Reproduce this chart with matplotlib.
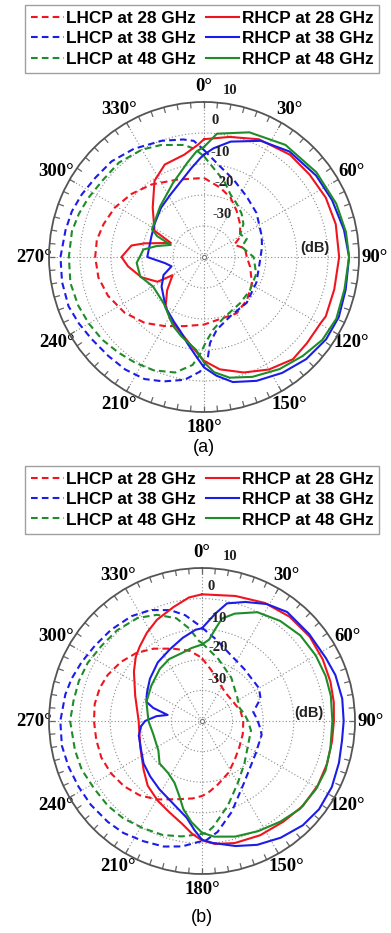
import numpy as np
import matplotlib
matplotlib.use("Agg")
import matplotlib.pyplot as plt
from matplotlib.lines import Line2D

# ---------------- data (angle in degrees, gain in dB) ----------------
# Panel (a)
a_r28_ang = [0, 12, 25, 40, 52, 64, 76, 90, 104, 116, 119, 130, 139, 150, 161, 172, 180, 186, 194, 208, 218, 228, 240, 242, 252, 263, 270, 279, 283, 293, 298, 314, 327, 337, 349, 357]
a_r28_val = [-2, -0.4, 1.9, 3.1, 3.2, 3.7, 3.8, 3.6, 3.3, 3.7, 3.3, 3.3, 3.7, 1.9, -0.6, -3.4, -6.5, -10, -13.5, -17, -19.9, -24, -28.3, -23, -18.8, -15.3, -13.4, -16.3, -20.4, -28.4, -21.9, -17, -10.7, -7.6, -6.4, -3.7]

a_r38_ang = [0, 5, 13, 26, 39, 54, 66, 79, 90, 103, 114, 124, 135, 146, 157, 167, 174, 180, 184, 191, 198, 205, 217, 235, 246, 254, 261, 270, 291, 304, 319, 332, 343, 352, 358]
a_r38_val = [-7, -4.8, -1.8, 1.7, 3.8, 4.7, 5.2, 6, 6.8, 6.9, 7.6, 7.5, 6.6, 5.1, 3.4, 1.4, -1.5, -4.4, -7.5, -11.7, -15, -17, -19.5, -23.3, -25.7, -29.1, -27.3, -21.7, -21.8, -20.8, -18.9, -17.1, -14.5, -11, -8]

a_r48_ang = [0, 6, 20, 36, 53, 68, 80, 90, 103, 115, 125, 135, 146, 158, 168, 175, 180, 185, 196, 204, 221, 240, 253, 265, 277, 283, 290, 294, 298, 319, 337, 350, 356]
a_r48_val = [-4.5, 0, 2.8, 4.7, 5.4, 6, 6.5, 6.8, 6.5, 7.1, 6.6, 5.1, 3.6, 1.7, -0.2, -2.7, -6, -10, -13.4, -15.6, -20.2, -21, -18.5, -18.2, -20.3, -24.3, -28.6, -23.5, -21, -18.4, -14.2, -9.1, -5.8]

a_l28_ang = [0, 13, 24, 35, 48, 61, 68, 78, 90, 102, 119, 135, 150, 162, 180, 196, 210, 222, 235, 248, 259, 270, 279, 288, 299, 311, 324, 341]
a_l28_val = [-14.5, -17, -19, -21.7, -24.3, -26.7, -29.5, -26.5, -26.2, -24.8, -22.3, -20.4, -19, -19.4, -18.2, -16.8, -14.3, -11.4, -8.7, -6.6, -5.3, -4.9, -5, -5.9, -7.1, -9, -11.1, -13.6]

a_l38_ang = [0, 10, 21, 35, 50, 60, 70, 80, 94, 116, 137, 156, 170, 176, 178, 182, 189, 198, 206, 215, 224, 234, 242, 250, 260, 270, 281, 289, 297, 306, 316, 327, 340, 350, 355]
a_l38_val = [-5.5, -10.3, -13.3, -16.1, -17.9, -19.4, -20.2, -21, -21.9, -21.2, -19.8, -19.1, -16.2, -12.2, -6.9, -3, 0.1, 2.2, 3.8, 4.3, 4.4, 4.9, 5.7, 6.5, 6.5, 6.3, 5.5, 5.1, 4.3, 3.4, 2.9, 1.6, -0.1, -1.5, -2.4]

a_l48_ang = [0, 6, 15, 23, 32, 41, 50, 58, 67, 75, 90, 108, 126, 142, 162, 173, 179, 182, 186, 194, 204, 213, 222, 231, 240, 249, 259, 270, 281, 289, 297, 307, 318, 330, 339, 350, 355]
a_l48_val = [-7.5, -11.1, -14.7, -18.1, -19.9, -21.5, -23.4, -26.2, -25, -27.4, -24, -22.3, -21.7, -21.1, -19.4, -16.3, -12.3, -9, -5, -1.6, 0, 0.7, 1.4, 2.3, 2.9, 3.5, 3.9, 3.6, 3.4, 2.7, 1.9, 1, 1, 0, -1.3, -3.3, -5]

# Panel (b)
b_r28_ang = [0, 15, 28, 40, 52, 63, 73, 82, 90, 99, 109, 119, 130, 141, 153, 165, 174, 180, 185, 191, 200, 209, 220, 230, 247, 270, 291, 306, 314, 320, 328, 336, 346, 354]
b_r28_val = [1.4, 2.3, 3.7, 4.5, 4.7, 4.3, 3.9, 3.5, 3.1, 3, 3.2, 3.3, 3.1, 2.3, 1.9, 1.3, 0.4, -1, -3, -5.8, -8.4, -10.2, -12.4, -15.1, -18.1, -19.3, -16.6, -12.5, -9.9, -8.3, -6, -3.8, -1.6, 0.6]

b_r38_ang = [0, 7, 12, 20, 29, 38, 51, 63, 71, 81, 90, 98, 107, 117, 127, 136, 146, 156, 165, 175, 180, 184, 189, 196, 212, 223, 234, 245, 257, 265, 270, 276, 280, 285, 289, 297, 309, 323, 336, 347, 356]
b_r38_val = [-9.7, -4.7, -0.7, 1.4, 3.7, 5.2, 5.1, 5.4, 6.1, 6.4, 6.3, 6.2, 6.8, 7.6, 7.9, 7.4, 6, 4.3, 2.3, 0, -1.2, -4.3, -8, -10.5, -13.7, -15.2, -16.4, -18, -18.8, -20, -21.4, -25, -28.6, -23.5, -20.8, -19.8, -18.1, -16, -14.3, -12.1, -10.1]

b_r48_ang = [0, 5, 8, 11, 17, 27, 38, 49, 60, 70, 79, 90, 102, 112, 121, 132, 142, 153, 164, 174, 180, 186, 192, 197, 204, 213, 225, 236, 255, 270, 289, 305, 321, 332, 344, 352]
b_r48_val = [-15, -13.3, -9.9, -5.9, -3.3, -0.1, 1.5, 2.6, 2.9, 3, 2.9, 2.6, 2.9, 3.5, 3.4, 3, 1.7, 0.4, -0.7, -2, -3.5, -6.8, -10.6, -14.5, -17.9, -19.7, -20.4, -22.8, -23.5, -22.5, -20.8, -19.8, -18.1, -17.1, -16.8, -15.9]

b_l28_ang = [0, 10, 25, 40, 60, 75, 90, 108, 125, 140, 153, 166, 175, 180, 187, 198, 210, 220, 230, 240, 250, 260, 270, 279, 288, 296, 306, 316, 326, 338, 350, 357]
b_l28_val = [-19.5, -23, -26.5, -28, -28, -27, -26.5, -26, -25.1, -23.4, -21, -18.6, -16.5, -15.5, -14.5, -13.1, -10.4, -8.3, -6.8, -5.7, -5, -4.9, -4.7, -4.5, -4.9, -5.7, -7.2, -9.1, -11.5, -14.5, -16.7, -18.7]

b_l38_ang = [0, 10, 21, 39, 60, 69, 80, 88, 96, 103, 121, 146, 162, 172, 178, 182, 189, 197, 206, 215, 223, 233, 242, 251, 260, 270, 281, 288, 296, 305, 315, 326, 335, 344, 351, 358]
b_l38_val = [-9.5, -13, -16, -18.1, -18.5, -19.5, -23, -22, -21, -20, -19.5, -15.5, -8.7, -3.4, -1, -0.4, 1.5, 2.9, 3.7, 4.7, 5.1, 5.5, 5.7, 6.1, 6.5, 6.3, 5.5, 4.8, 3.8, 2.8, 2.1, 1.3, 0, -2.3, -5, -8.6]

b_l48_ang = [0, 15, 34, 57, 71, 80, 90, 101, 135, 150, 163, 174, 178, 183, 190, 199, 209, 219, 228, 238, 248, 257, 270, 279, 288, 297, 307, 317, 328, 337, 346, 352, 358]
b_l48_val = [-14.5, -19.1, -22.9, -26.2, -27, -26, -25, -23.7, -20.4, -16.6, -11.1, -5.2, -3.3, -2.8, -1.7, -0.6, 0, 0.9, 1.4, 1.6, 2.4, 2.6, 3.1, 2.5, 2.3, 1.9, 1, 0.6, -0.3, -2.3, -5.4, -9.4, -13.9]

freq_labels = ["28 GHz", "38 GHz", "48 GHz"]
angle_ticks = list(range(0, 360, 30))
r_ticks = [-30, -20, -10, 0]
r_label_vals = [10, 0, -10, -20, -30]
r_min, r_max = -40, 10

# ---------------- styling ----------------
RED = "#f0141e"
BLUE = "#1c1ce8"
GREEN = "#1e8c28"
colors = [RED, BLUE, GREEN]
SERIF = ["Liberation Serif", "DejaVu Serif"]
SANS = ["Liberation Sans", "DejaVu Sans"]
LW = 1.5
DASH = (0, (3.2, 2.0))

W, H = 391, 933
fig = plt.figure(figsize=(W / 100, H / 100), dpi=100)


def closed(ang, val):
    a = np.deg2rad(np.array(ang + [ang[0] + 360], dtype=float))
    v = np.array(val + [val[0]], dtype=float)
    return a, v


def panel(rect, lhcp, rhcp, lab_offsets, db_offset):
    ax = fig.add_axes(rect, projection="polar")
    ax.set_theta_zero_location("N")
    ax.set_theta_direction(-1)
    ax.set_ylim(r_min, r_max)
    ax.set_rticks(r_ticks)
    ax.set_yticklabels([])
    ax.set_thetagrids(angle_ticks, [f"{a}\u00b0" for a in angle_ticks],
                      fontfamily=SERIF, fontweight="bold", fontsize=13.5)
    ax.tick_params(axis="x", which="both", length=0, pad=4)
    ax.grid(True, linestyle=(0, (1, 2)), color="#8a8a8a", linewidth=0.8)
    ax.spines["polar"].set_color("#555555")
    ax.spines["polar"].set_linewidth(1.3)
    # small inward tick marks on the outer ring, every 5 degrees
    for t in np.deg2rad(np.arange(0, 360, 5)):
        ax.plot([t, t], [r_max, r_max - 1.9], color="#666666", lw=0.9,
                solid_capstyle="butt")
    for (ang, val), c in zip(lhcp, colors):
        a, v = closed(ang, val)
        ax.plot(a, v, color=c, lw=LW, linestyle=DASH)
    for (ang, val), c in zip(rhcp, colors):
        a, v = closed(ang, val)
        ax.plot(a, v, color=c, lw=LW)
    ax.plot([0], [r_min], marker="o", ms=3, mfc="white", mec="#777777", mew=0.8)
    for rv, (dx, dy) in zip(r_label_vals, lab_offsets):
        ax.annotate(str(rv), xy=(0, rv), xytext=(dx, dy), textcoords="offset pixels",
                    ha="center", va="center", fontsize=10.5, fontfamily=SERIF,
                    color="#222222", fontweight="bold")
    ax.annotate("(dB)", xy=(0, r_min), xytext=db_offset, textcoords="offset pixels",
                ha="center", va="center", fontsize=10.5, fontfamily=SANS,
                fontweight="bold", color="#222222")
    ax.set_ylim(r_min, r_max)
    return ax


def legend(y_top):
    handles, labels = [], []
    for pol, ls in (("LHCP", DASH), ("RHCP", "-")):
        for c, f in zip(colors, freq_labels):
            handles.append(Line2D([], [], color=c, lw=LW, linestyle=ls))
            labels.append(f"{pol} at {f}")
    leg = fig.legend(handles, labels, ncol=2, loc="upper center",
                     bbox_to_anchor=(0.517, y_top), frameon=True, fancybox=False,
                     edgecolor="#888888", handlelength=1.9, handletextpad=0.15,
                     columnspacing=0.6, labelspacing=0.3, borderpad=0.35,
                     borderaxespad=0,
                     prop={"family": SANS, "weight": "bold", "size": 12.4})
    leg.get_frame().set_linewidth(1.0)
    return leg


# panel (a)
legend(1 - 5 / H)
ca, Ra = (204, 257), 155
panel([(ca[0] - Ra) / W, 1 - (ca[1] + Ra) / H, 2 * Ra / W, 2 * Ra / H],
      [(a_l28_ang, a_l28_val), (a_l38_ang, a_l38_val), (a_l48_ang, a_l48_val)],
      [(a_r28_ang, a_r28_val), (a_r38_ang, a_r38_val), (a_r48_ang, a_r48_val)],
      [(26, 12), (11, 12), (16, 11), (20, 12), (18, 11)], (111, 9))
fig.text(204 / W, 1 - 447 / H, "(a)", ha="center", va="center",
         fontsize=13, fontfamily=SANS)

# panel (b)
legend(1 - 466 / H)
cb, Rb = (202, 721), 153
panel([(cb[0] - Rb) / W, 1 - (cb[1] + Rb) / H, 2 * Rb / W, 2 * Rb / H],
      [(b_l28_ang, b_l28_val), (b_l38_ang, b_l38_val), (b_l48_ang, b_l48_val)],
      [(b_r28_ang, b_r28_val), (b_r38_ang, b_r38_val), (b_r48_ang, b_r48_val)],
      [(28, 12), (9, 12), (15, 11), (16, 12), (15, 11)], (107, 8))
fig.text(202 / W, 1 - 917 / H, "(b)", ha="center", va="center",
         fontsize=13, fontfamily=SANS)

fig.savefig("out.png", dpi=100)
